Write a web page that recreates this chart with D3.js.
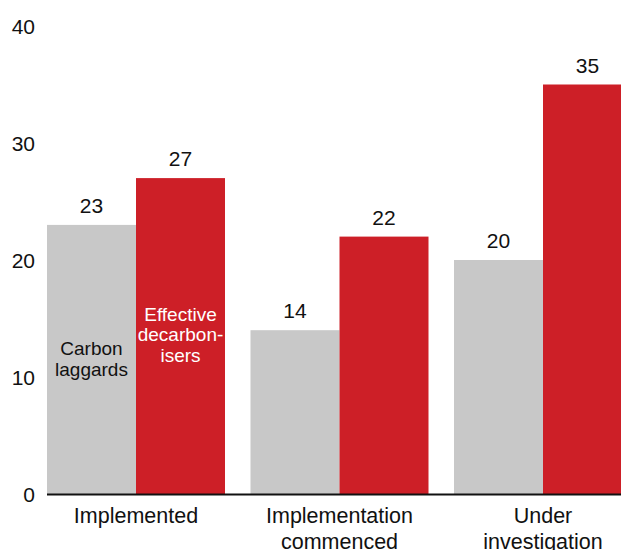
<!DOCTYPE html>
<html><head><meta charset="utf-8">
<script src="https://cdn.jsdelivr.net/npm/d3@7"></script>
<style>body{margin:0;background:#fff}svg{display:block;font-family:"Liberation Sans",Arial,sans-serif}</style>
</head><body>
<script>
const categories = [["Implemented"], ["Implementation", "commenced"], ["Under", "investigation"]];
const categoryKeys = ["Implemented", "Implementation commenced", "Under investigation"];
const seriesNames = ["Carbon laggards", "Effective decarbonisers"];
const laggards = [23, 14, 20];
const decarbonisers = [27, 22, 35];
const yTicks = [0, 10, 20, 30, 40];
const seriesLabels = [["Carbon", "laggards"], ["Effective", "decarbon-", "isers"]];
const colors = ["#c8c8c8", "#cd1f27"];

const W = 621, H = 550;
const svg = d3.select("body").append("svg").attr("width", W).attr("height", H);
const y = d3.scaleLinear().domain([0, 40]).range([494, 26]);
const x = d3.scaleBand().domain(categoryKeys).range([47, 632]).paddingInner(0.1253).paddingOuter(0);
const xs = d3.scaleBand().domain(seriesNames).range([0, x.bandwidth()]).padding(0);
const series = [laggards, decarbonisers];

// y tick labels
svg.append("g").selectAll("text").data(yTicks).join("text")
  .attr("x", 35).attr("y", d => y(d)).attr("dy", "0.36em")
  .attr("text-anchor", "end").attr("font-size", 21).attr("fill", "#111").text(d => d);

// bars
categoryKeys.forEach((c, i) => {
  const g = svg.append("g").attr("transform", `translate(${x(c)},0)`);
  seriesNames.forEach((s, j) => {
    const v = series[j][i];
    g.append("rect").attr("x", xs(s)).attr("width", xs.bandwidth())
      .attr("y", y(v)).attr("height", y(0) - y(v)).attr("fill", colors[j]);
    g.append("text").attr("x", xs(s) + xs.bandwidth() / 2).attr("y", y(v) - 12)
      .attr("text-anchor", "middle").attr("font-size", 21).attr("fill", "#111").text(v);
  });
});

// inside series labels on first group
const g0 = x(categoryKeys[0]);
seriesLabels.forEach((lines, j) => {
  const cx = g0 + xs(seriesNames[j]) + xs.bandwidth() / 2;
  const startY = j === 0 ? 355 : 320.5;
  lines.forEach((t, k) => {
    svg.append("text").attr("x", cx).attr("y", startY + k * 20.5)
      .attr("text-anchor", "middle").attr("font-size", 19)
      .attr("fill", j === 0 ? "#111" : "#fff").text(t);
  });
});

// baseline
svg.append("line").attr("x1", 47).attr("x2", W).attr("y1", y(0) + 0.5).attr("y2", y(0) + 0.5)
  .attr("stroke", "#111").attr("stroke-width", 2);

// category labels
categoryKeys.forEach((c, i) => {
  categories[i].forEach((t, k) => {
    svg.append("text").attr("x", x(c) + x.bandwidth() / 2).attr("y", 523 + k * 25.5)
      .attr("text-anchor", "middle").attr("font-size", 21.5).attr("fill", "#111").text(t);
  });
});
</script>
</body></html>
